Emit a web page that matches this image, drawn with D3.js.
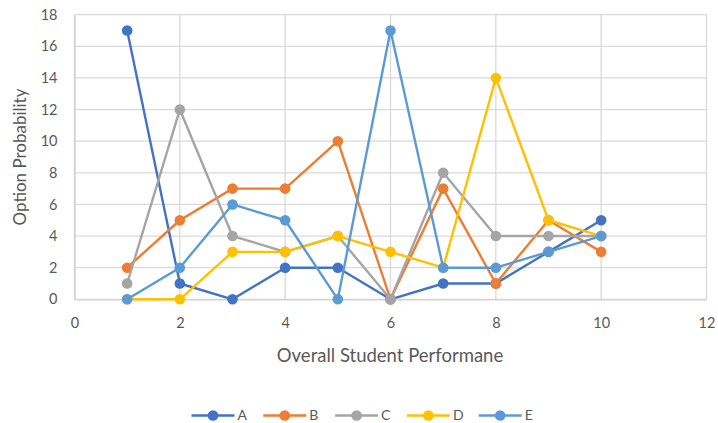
<!DOCTYPE html>
<html><head><meta charset="utf-8">
<script src="https://cdn.jsdelivr.net/npm/d3@7"></script>
<style>body{margin:0;background:#fff;} svg{display:block;}</style>
</head><body>
<svg id="c" width="718" height="423"></svg>
<script>
const xValues = [1,2,3,4,5,6,7,8,9,10];
const seriesNames = ["A","B","C","D","E"];
const seriesA = [17,1,0,2,2,0,1,1,3,5];
const seriesB = [2,5,7,7,10,0,7,1,5,3];
const seriesC = [1,12,4,3,4,0,8,4,4,4];
const seriesD = [0,0,3,3,4,3,2,14,5,4];
const seriesE = [0,2,6,5,0,17,2,2,3,4];
const xTicks = [0,2,4,6,8,10,12];
const yTicks = [0,2,4,6,8,10,12,14,16,18];
const colors = ["#4472C4","#ED7D31","#A5A5A5","#FFC000","#5B9BD5"];
const xTitle = "Overall Student Performane";
const yTitle = "Option Probability";

const allSeries = [seriesA,seriesB,seriesC,seriesD,seriesE];
const svg = d3.select("#c");
const font = "Lato, 'Open Sans', sans-serif";
const L=74.5, R=706.5, T=14.7, B=299.3;
const x = d3.scaleLinear().domain([0,12]).range([L,R]);
const y = d3.scaleLinear().domain([0,18]).range([B,T]);

// gridlines
svg.append("g").selectAll("line.h").data(yTicks).join("line")
  .attr("x1",L).attr("x2",R).attr("y1",d=>y(d)).attr("y2",d=>y(d))
  .attr("stroke","#d9d9d9").attr("stroke-width",1.3);
svg.append("g").selectAll("line.v").data(xTicks).join("line")
  .attr("y1",T).attr("y2",B).attr("x1",d=>x(d)).attr("x2",d=>x(d))
  .attr("stroke","#d9d9d9").attr("stroke-width",1.3);

// axes
const xa = svg.append("g").attr("transform",`translate(0,${B})`)
  .call(d3.axisBottom(x).tickValues(xTicks).tickSize(0).tickPadding(18));
xa.select(".domain").attr("stroke","#d0d0d0").attr("stroke-width",1.3);
xa.selectAll("text").attr("fill","#595959").style("font-size","14.5px").style("font-family",font);
const ya = svg.append("g").attr("transform",`translate(${L},0)`)
  .call(d3.axisLeft(y).tickValues(yTicks).tickSize(0).tickPadding(17));
ya.select(".domain").attr("stroke","#d0d0d0").attr("stroke-width",1.3);
ya.selectAll("text").attr("fill","#595959").style("font-size","14.5px").style("font-family",font);

// titles
svg.append("text").attr("x",390).attr("y",362).attr("text-anchor","middle")
  .attr("fill","#595959").style("font-size","18.5px").style("font-family",font).text(xTitle);
svg.append("text").attr("transform","translate(26,157) rotate(-90)").attr("text-anchor","middle")
  .attr("fill","#595959").style("font-size","17px").style("font-family",font).text(yTitle);

// series
const line = d3.line().x((d,i)=>x(xValues[i])).y(d=>y(d));
allSeries.forEach((s,k)=>{
  const g = svg.append("g");
  g.append("path").datum(s).attr("d",line).attr("fill","none")
    .attr("stroke",colors[k]).attr("stroke-width",2.4).attr("stroke-linejoin","round");
  g.selectAll("circle").data(s).join("circle")
    .attr("cx",(d,i)=>x(xValues[i])).attr("cy",d=>y(d)).attr("r",5.3).attr("fill",colors[k]);
});

// legend
const lg = svg.append("g");
seriesNames.forEach((n,k)=>{
  const cx = 213 + k*71.8, cy = 415.5;
  lg.append("line").attr("x1",cx-21.5).attr("x2",cx+21.5).attr("y1",cy).attr("y2",cy)
    .attr("stroke",colors[k]).attr("stroke-width",2.4);
  lg.append("circle").attr("cx",cx).attr("cy",cy).attr("r",5.3).attr("fill",colors[k]);
  lg.append("text").attr("x",cx+24.5).attr("y",cy+4.5).attr("fill","#595959")
    .style("font-size","14px").style("font-family",font).text(n);
});
</script>
</body></html>
